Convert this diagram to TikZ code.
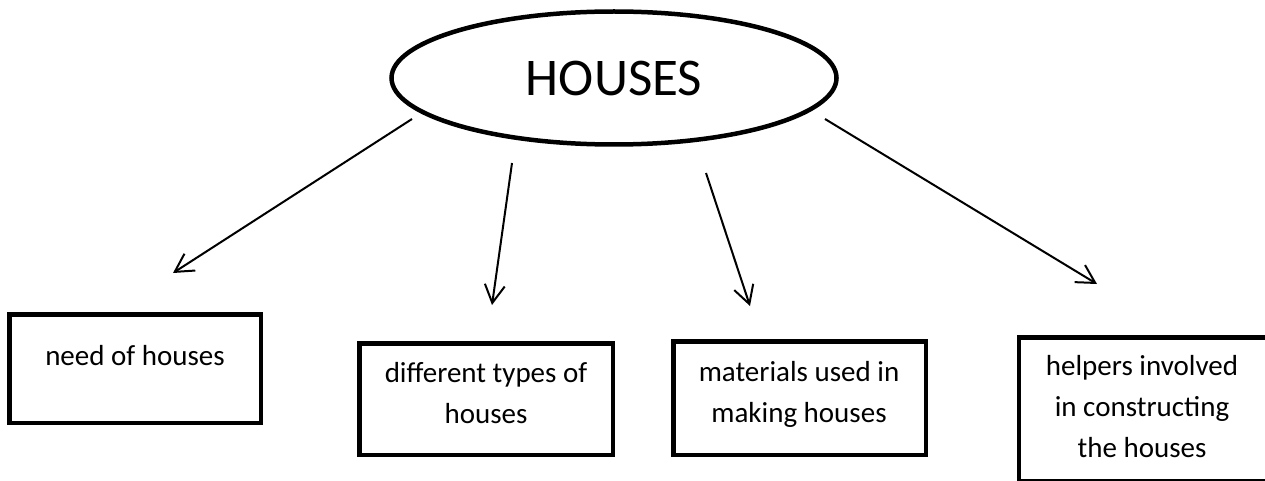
\documentclass[tikz,border=0pt]{standalone}
\usepackage{fontspec}
\setmainfont{Carlito}
\usetikzlibrary{shapes.geometric,arrows.meta}
\tikzset{
  topic/.style={ellipse, draw, line width=4.5pt, minimum width=445pt, minimum height=133pt, inner sep=0pt, font=\fontsize{53}{60}\selectfont},
  boxframe/.style={rectangle, draw, line width=4.5pt, inner sep=0pt},
  boxtext/.style={anchor=base, inner sep=0pt, font=\fontsize{29}{41}\selectfont},
  link/.style={line width=2pt, -{Straight Barb[length=18pt,width=20pt]}}
}
\begin{document}
\begin{tikzpicture}[x=1pt,y=-1pt]
\useasboundingbox (0,0) rectangle (1265,481);
\node[topic] (h) at (614,78) {HOUSES};
% boxes
\node[boxframe, minimum width=251.5pt, minimum height=108.5pt] (b1) at (135,368.5) {};
\node[boxframe, minimum width=253.5pt, minimum height=111.5pt] (b2) at (486,399) {};
\node[boxframe, minimum width=252.5pt, minimum height=113.5pt] (b3) at (799.5,398) {};
\node[boxframe, minimum width=250.75pt, minimum height=144.25pt] (b4) at (1144.6,409.4) {};
% texts
\node[boxtext] (t1) at (135,365) {need of houses};
\node[boxtext] (t2) at (486,382) {\begin{tabular}[t]{@{}c@{}}different types of\\houses\end{tabular}};
\node[boxtext] (t3) at (799,381) {\begin{tabular}[t]{@{}c@{}}materials used in\\making houses\end{tabular}};
\node[boxtext] (t4) at (1142,375) {\begin{tabular}[t]{@{}c@{}}helpers involved\\in constructing\\the houses\end{tabular}};
% arrow ends
\coordinate (a1s) at (412,119); \coordinate (a1e) at (173,273);
\coordinate (a2s) at (512,163); \coordinate (a2e) at (492,305);
\coordinate (a3s) at (706,173); \coordinate (a3e) at (750,306);
\coordinate (a4s) at (825,119); \coordinate (a4e) at (1097,284);
\draw[link] (a1s) -- (a1e);
\draw[link] (a2s) -- (a2e);
\draw[link] (a3s) -- (a3e);
\draw[link] (a4s) -- (a4e);
\end{tikzpicture}
\end{document}
